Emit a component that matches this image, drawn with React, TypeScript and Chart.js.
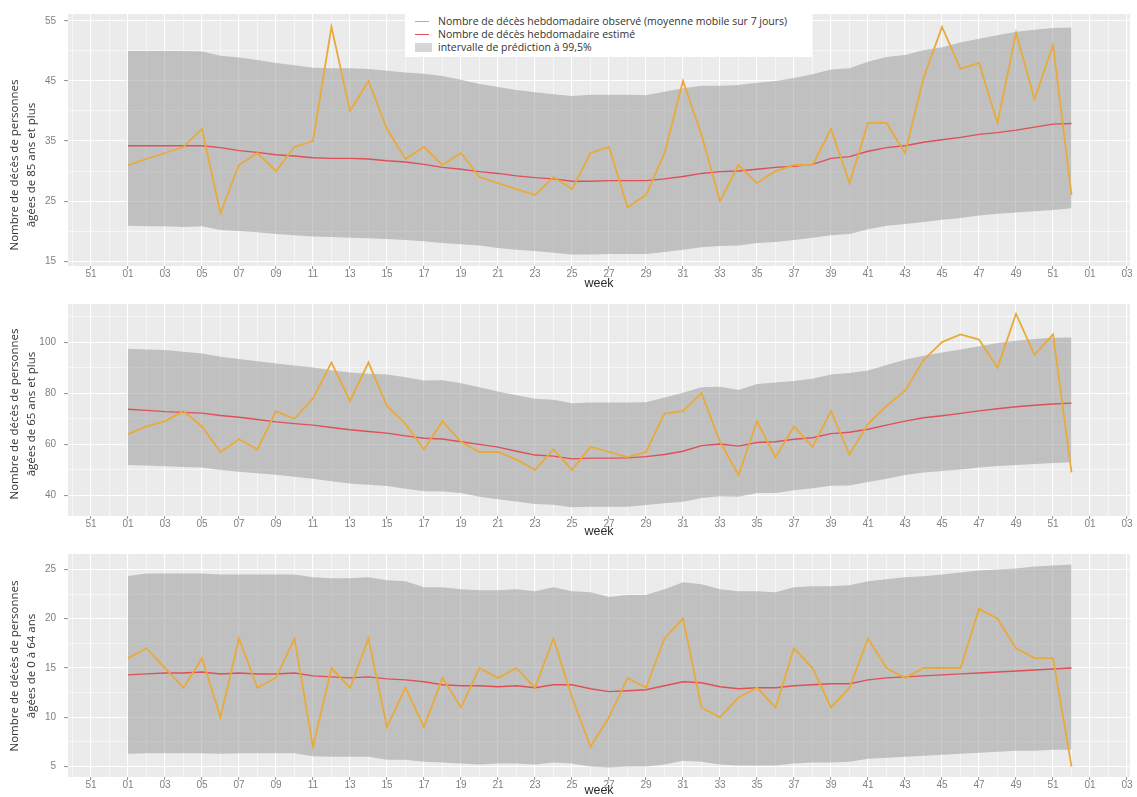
import React, { useEffect, useRef } from "react";
import { Chart, registerables } from "chart.js";

Chart.register(...registerables);

// ---------- data ----------
const weeks = [1,2,3,4,5,6,7,8,9,10,11,12,13,14,15,16,17,18,19,20,21,22,23,24,25,26,27,28,29,30,31,32,33,34,35,36,37,38,39,40,41,42,43,44,45,46,47,48,49,50,51,52];

const xMajorWeeks = [-1,1,3,5,7,9,11,13,15,17,19,21,23,25,27,29,31,33,35,37,39,41,43,45,47,49,51,53,55];
const xTickLabels = ["51","01","03","05","07","09","11","13","15","17","19","21","23","25","27","29","31","33","35","37","39","41","43","45","47","49","51","01","03"];
const xMinorWeeks = [-2,0,2,4,6,8,10,12,14,16,18,20,22,24,26,28,30,32,34,36,38,40,42,44,46,48,50,52,54];

// 85 ans et plus
const obs85 = [31,32,33,34,37,23,31,33,30,34,35,54,40,45,37,32,34,31,33,29,28,27,26,29,27,33,34,24,26,33,45,36,25,31,28,30,31,31,37,28,38,38,33,45.5,54,47,48,38,53,42,51,26];
const est85 = [34.2,34.2,34.2,34.2,34.2,33.9,33.4,33.1,32.7,32.5,32.2,32.1,32.1,32.0,31.7,31.5,31.1,30.6,30.3,29.9,29.6,29.2,28.9,28.7,28.3,28.3,28.4,28.4,28.4,28.7,29.1,29.6,29.9,30.0,30.3,30.6,30.8,31.1,32.1,32.4,33.3,33.9,34.2,34.8,35.2,35.6,36.1,36.4,36.8,37.3,37.8,37.9];
const hi85 = [50,50,50,50,49.9,49.2,48.9,48.5,48.0,47.6,47.2,47.1,47.1,47.0,46.7,46.4,46.2,45.8,45.2,44.5,44.0,43.5,43.1,42.8,42.5,42.7,42.7,42.7,42.6,43.2,43.8,44.2,44.2,44.3,44.7,45.0,45.5,46.1,46.9,47.1,48.2,49.0,49.3,50.1,50.6,51.4,52.0,52.6,53.2,53.5,53.8,53.9];
const lo85 = [20.9,20.8,20.8,20.7,20.8,20.2,20.0,19.8,19.5,19.3,19.1,19.0,18.9,18.8,18.7,18.5,18.3,18.0,17.8,17.6,17.2,16.9,16.7,16.4,16.1,16.1,16.2,16.2,16.2,16.5,16.9,17.3,17.5,17.6,18.0,18.2,18.5,18.9,19.3,19.5,20.3,20.9,21.2,21.5,21.9,22.2,22.6,22.9,23.1,23.3,23.5,23.8];
const yTicks85 = [15,25,35,45,55];
const yMinor85 = [20,30,40,50];

// 65 ans et plus
const obs65 = [64,67,69,73,67,57,62,58,73,70,78,92,77,92,75,68,58,69,61,57,57,54,50,58,50,59,57,55,57,72,73,80,61,48,69,55,67,59,73,56,68,75,81,93,100,103,101,90,111,95,103,49];
const est65 = [73.7,73.3,72.8,72.5,72.2,71.3,70.6,69.7,68.8,68.1,67.5,66.6,65.7,65.0,64.4,63.3,62.4,62.1,61.0,60.0,58.9,57.3,55.8,55.4,54.3,54.6,54.6,54.7,55.2,56.0,57.3,59.5,60.1,59.3,60.7,61.0,62.0,62.6,64.2,64.7,65.9,67.5,69.1,70.4,71.2,72.1,73.1,73.9,74.7,75.3,75.8,76.1];
const hi65 = [97.4,97.1,96.9,96.2,95.5,94.3,93.4,92.5,91.6,90.8,90.1,89.0,88.1,87.6,87.3,86.2,85.0,85.1,83.9,82.3,80.7,79.2,77.8,77.4,76.1,76.4,76.4,76.4,76.5,78.3,80.2,82.3,82.5,81.3,83.6,84.2,84.8,85.7,87.3,87.9,88.9,91.0,93.1,94.7,95.9,97.1,98.4,99.6,100.5,101.2,101.7,101.8];
const lo65 = [51.9,51.7,51.4,51.1,50.9,50.0,49.3,48.7,48.1,47.3,46.5,45.6,44.7,44.2,43.7,42.6,41.6,41.5,41.0,39.5,38.5,37.6,36.7,36.4,35.4,35.6,35.6,35.6,36.3,36.9,37.5,39.0,39.7,39.5,41.0,41.0,42.0,42.8,43.8,43.9,45.3,46.5,48.0,49.0,49.6,50.2,50.9,51.5,51.9,52.3,52.7,53.0];
const yTicks65 = [40,60,80,100];
const yMinor65 = [50,70,90,110];

// 0 à 64 ans
const obs064 = [16,17,15,13,16,10,18,13,14,18,7,15,13,18,9,13,9,14,11,15,14,15,13,18,12,7,10,14,13,18,20,11,10,12,13,11,17,15,11,13,18,15,14,15,15,15,21,20,17,16,16,5];
const est064 = [14.3,14.4,14.5,14.5,14.6,14.4,14.5,14.4,14.4,14.5,14.2,14.1,14.0,14.1,13.9,13.8,13.6,13.3,13.2,13.2,13.1,13.2,13.0,13.3,13.3,12.9,12.6,12.7,12.8,13.2,13.6,13.5,13.1,12.9,13.0,13.0,13.2,13.3,13.4,13.4,13.8,14.0,14.1,14.2,14.3,14.4,14.5,14.6,14.7,14.8,14.9,15.0];
const hi064 = [24.35,24.6,24.6,24.6,24.6,24.5,24.5,24.5,24.5,24.5,24.2,24.1,24.1,24.2,23.9,23.8,23.2,23.2,23.0,22.9,22.9,23.0,22.8,23.2,22.8,22.7,22.2,22.4,22.4,23.0,23.7,23.5,23.0,22.8,22.8,22.7,23.2,23.3,23.3,23.4,23.8,24.0,24.2,24.3,24.5,24.7,24.9,25.0,25.1,25.3,25.4,25.5];
const lo064 = [6.3,6.35,6.35,6.35,6.35,6.3,6.35,6.35,6.35,6.35,6.05,6.0,6.0,6.0,5.7,5.7,5.5,5.4,5.3,5.2,5.3,5.3,5.2,5.4,5.3,5.0,4.9,5.0,5.0,5.2,5.6,5.5,5.2,5.1,5.1,5.1,5.3,5.4,5.4,5.5,5.8,5.9,6.0,6.1,6.2,6.3,6.4,6.5,6.6,6.6,6.7,6.7];
const yTicks064 = [5,10,15,20,25];
const yMinor064 = [7.5,12.5,17.5,22.5];

const title85 = ["Nombre de décès de personnes", "âgées de 85 ans et plus"];
const title65 = ["Nombre de décès de personnes", "âgées de 65 ans et plus"];
const title064 = ["Nombre de décès de personnes", "âgées de 0 à 64 ans"];
const xTitle = "week";

const legendLabels = [
  "Nombre de décès hebdomadaire observé (moyenne mobile sur 7 jours)",
  "Nombre de décès hebdomadaire estimé",
  "intervalle de prédiction à 99,5%",
];

// ---------- styles ----------
const X_MIN = -2.24;
const X_MAX = 55.16;
const OBS_COLOR = "#E9AA3C";
const EST_COLOR = "#DE5058";
const BAND_COLOR = "rgba(150,150,150,0.5)";
const PANEL_BG = "#EBEBEB";
const TICK_FONT = "'Liberation Sans', Arial, sans-serif";
const TITLE_FONT = "'Open Sans', 'Noto Sans', sans-serif";

type PanelCfg = {
  title: string[];
  titleCY: number;
  obs: number[];
  est: number[];
  lo: number[];
  hi: number[];
  yMin: number;
  yMax: number;
  yMajor: number[];
  yMinor: number[];
  padTop: number;
  xAxisH: number;
  weekPad: number;
};

const bgPlugin = {
  id: "panelBg",
  beforeDraw(chart: any) {
    const { ctx, chartArea: a } = chart;
    ctx.save();
    ctx.fillStyle = PANEL_BG;
    ctx.fillRect(a.left, a.top, a.right - a.left, a.bottom - a.top);
    ctx.restore();
  },
};

function makeTitlePlugin(lines: string[], cy: number) {
  return {
    id: "yTitle",
    afterDraw(chart: any) {
      const ctx = chart.ctx;
      ctx.save();
      ctx.fillStyle = "#333333";
      ctx.font = `11.5px ${TITLE_FONT}`;
      ctx.textAlign = "center";
      ctx.textBaseline = "middle";
      lines.forEach((line, i) => {
        ctx.save();
        ctx.translate(15 + i * 17, cy);
        ctx.rotate(-Math.PI / 2);
        ctx.fillText(line, 0, 0);
        ctx.restore();
      });
      ctx.restore();
    },
  };
}

function isIn(list: number[], v: number) {
  return list.some((m) => Math.abs(m - v) < 1e-6);
}

function buildChart(canvas: HTMLCanvasElement, p: PanelCfg) {
  const pts = (arr: number[]) => arr.map((v, i) => ({ x: weeks[i], y: v }));
  return new Chart(canvas, {
    type: "line",
    data: {
      datasets: [
        { data: pts(p.lo), borderWidth: 0, borderColor: "rgba(0,0,0,0)", pointRadius: 0, fill: false, order: 3 },
        { data: pts(p.hi), borderWidth: 0, borderColor: "rgba(0,0,0,0)", pointRadius: 0, fill: "-1", backgroundColor: BAND_COLOR, order: 2 },
        { data: pts(p.est), borderColor: EST_COLOR, borderWidth: 1.4, pointRadius: 0, fill: false, tension: 0, order: 1 },
        { data: pts(p.obs), borderColor: OBS_COLOR, borderWidth: 1.8, pointRadius: 0, fill: false, tension: 0, order: 0 },
      ],
    },
    options: {
      responsive: false,
      maintainAspectRatio: false,
      animation: false,
      events: [],
      layout: { padding: { top: p.padTop, right: 7, bottom: 0, left: 0 } },
      plugins: { legend: { display: false }, tooltip: { enabled: false } },
      scales: {
        x: {
          type: "linear",
          min: X_MIN,
          max: X_MAX,
          afterBuildTicks: (s: any) => {
            const all = [...xMinorWeeks, ...xMajorWeeks].sort((a, b) => a - b);
            s.ticks = all.map((v) => ({ value: v }));
          },
          afterFit: (s: any) => {
            s.height = p.xAxisH;
          },
          ticks: {
            autoSkip: false,
            maxRotation: 0,
            minRotation: 0,
            padding: 0,
            color: "#808080",
            font: { family: TICK_FONT, size: 10, lineHeight: 1 },
            callback: (value: any) => {
              const idx = xMajorWeeks.indexOf(Math.round(Number(value)));
              return idx >= 0 ? xTickLabels[idx] : "";
            },
          },
          grid: {
            color: "#FFFFFF",
            lineWidth: (c: any) => (c.tick && isIn(xMajorWeeks, c.tick.value) ? 1.1 : 0.55),
            tickLength: 3,
            tickColor: (c: any) => (c.tick && isIn(xMajorWeeks, c.tick.value) ? "#999999" : "rgba(0,0,0,0)"),
          },
          border: { display: false },
          title: {
            display: true,
            text: xTitle,
            color: "#2b2b2b",
            font: { family: TICK_FONT, size: 12.5, lineHeight: 1 },
            padding: { top: 0, bottom: p.weekPad },
          },
        },
        y: {
          type: "linear",
          min: p.yMin,
          max: p.yMax,
          afterBuildTicks: (s: any) => {
            const all = [...p.yMinor, ...p.yMajor].filter((v) => v >= p.yMin && v <= p.yMax).sort((a, b) => a - b);
            s.ticks = all.map((v) => ({ value: v }));
          },
          afterFit: (s: any) => {
            s.width = 68;
          },
          ticks: {
            autoSkip: false,
            padding: 8,
            color: "#808080",
            font: { family: TICK_FONT, size: 10 },
            callback: (value: any) => (isIn(p.yMajor, Number(value)) ? String(value) : ""),
          },
          grid: {
            color: "#FFFFFF",
            lineWidth: (c: any) => (c.tick && isIn(p.yMajor, c.tick.value) ? 1.1 : 0.55),
            tickLength: 4,
            tickColor: (c: any) => (c.tick && isIn(p.yMajor, c.tick.value) ? "#999999" : "rgba(0,0,0,0)"),
          },
          border: { display: false },
          title: { display: false },
        },
      },
    },
    plugins: [bgPlugin, makeTitlePlugin(p.title, p.titleCY)],
  } as any);
}

function Panel({ cfg, top, height }: { cfg: PanelCfg; top: number; height: number }) {
  const ref = useRef<HTMLCanvasElement>(null);
  useEffect(() => {
    const chart = buildChart(ref.current as HTMLCanvasElement, cfg);
    return () => chart.destroy();
  }, []);
  return (
    <canvas
      ref={ref}
      width={1137}
      height={height}
      style={{ position: "absolute", left: 0, top, width: 1137, height, display: "block" }}
    />
  );
}

const panel85: PanelCfg = {
  title: title85, titleCY: 165, obs: obs85, est: est85, lo: lo85, hi: hi85,
  yMin: 14.19, yMax: 56.14, yMajor: yTicks85, yMinor: yMinor85,
  padTop: 8, xAxisH: 24, weekPad: 0,
};
const panel65: PanelCfg = {
  title: title65, titleCY: 124, obs: obs65, est: est65, lo: lo65, hi: hi65,
  yMin: 31.96, yMax: 114.9, yMajor: yTicks65, yMinor: yMinor65,
  padTop: 2, xAxisH: 24, weekPad: 1.8,
};
const panel064: PanelCfg = {
  title: title064, titleCY: 126, obs: obs064, est: est064, lo: lo064, hi: hi064,
  yMin: 3.94, yMax: 26.57, yMajor: yTicks064, yMinor: yMinor064,
  padTop: 2, xAxisH: 20, weekPad: 0,
};

function Legend() {
  const swatches = [
    <div style={{ width: 14, height: 1.5, background: OBS_COLOR }} />,
    <div style={{ width: 14, height: 1.5, background: EST_COLOR }} />,
    <div style={{ width: 17, height: 9, background: "#D6D6D6" }} />,
  ];
  return (
    <div
      style={{
        position: "absolute",
        left: 405,
        top: 8,
        width: 407,
        height: 49,
        background: "#FFFFFF",
        fontFamily: TITLE_FONT,
        fontSize: "10.5px",
        color: "#333333",
      }}
    >
      {legendLabels.map((lab, i) => (
        <div
          key={i}
          style={{ position: "absolute", left: 10, top: 7 + 13 * i, height: 13, display: "flex", alignItems: "center", whiteSpace: "nowrap" }}
        >
          <div style={{ width: 23, display: "flex", alignItems: "center" }}>{swatches[i]}</div>
          <span style={{ lineHeight: "13px" }}>{lab}</span>
        </div>
      ))}
    </div>
  );
}

export default function App() {
  return (
    <div style={{ position: "absolute", left: 0, top: 0, width: 1137, height: 797, background: "#FFFFFF", overflow: "hidden" }}>
      <Panel cfg={panel85} top={0} height={290} />
      <Panel cfg={panel65} top={290} height={250} />
      <Panel cfg={panel064} top={540} height={257} />
      <Legend />
    </div>
  );
}
